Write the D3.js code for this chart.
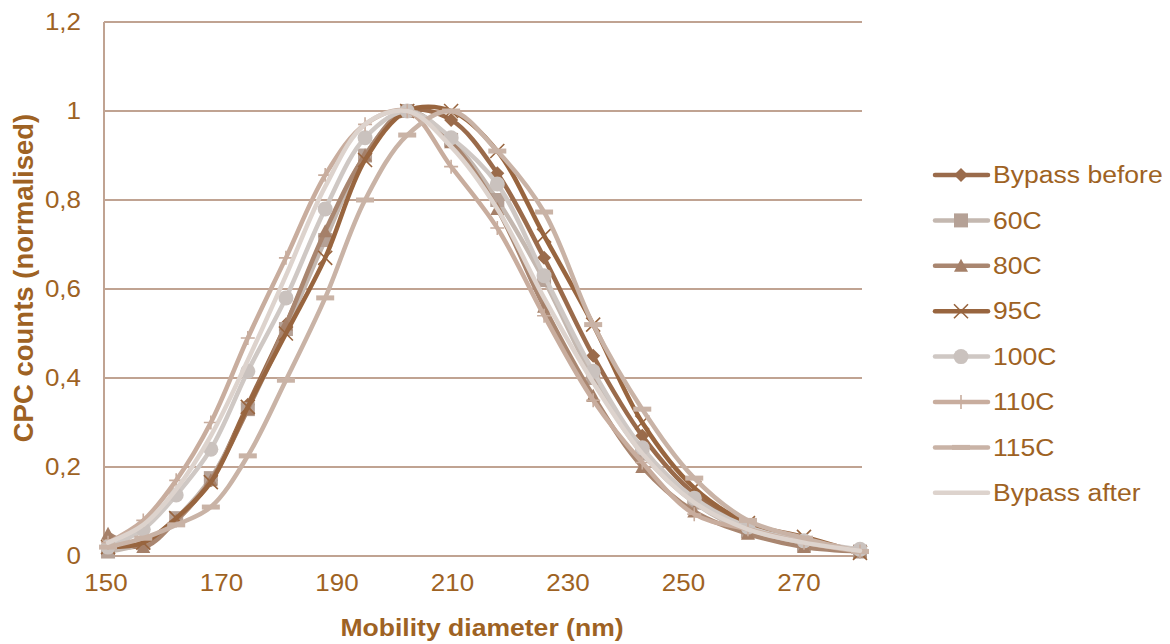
<!DOCTYPE html>
<html><head><meta charset="utf-8">
<script src="https://cdn.jsdelivr.net/npm/d3@7"></script>
<style>body{margin:0;background:#fff;}svg{display:block;font-family:"Liberation Sans",Arial,sans-serif;}</style>
</head><body>
<svg id="c" width="1170" height="644"></svg>
<script>
const diameters = [150.7,156.8,162.5,168.5,174.9,181.5,188.3,195.2,202.5,210.1,218.1,226.2,234.7,243.2,252.2,261.5,271.2,280.9];
const seriesNames = ["Bypass before","60C","80C","95C","100C","110C","115C","Bypass after"];
const bypassBefore = [0.02,0.025,0.08,0.17,0.34,0.52,0.72,0.9,1.0,0.98,0.86,0.67,0.45,0.27,0.14,0.07,0.03,0.01];
const c60 = [0.01,0.03,0.085,0.175,0.33,0.51,0.71,0.9,1.0,0.935,0.8,0.62,0.4,0.23,0.12,0.055,0.025,0.01];
const c80 = [0.05,0.02,0.08,0.17,0.33,0.52,0.73,0.9,1.0,0.93,0.78,0.56,0.36,0.2,0.1,0.05,0.02,0.01];
const c95 = [0.02,0.03,0.085,0.166,0.335,0.5,0.67,0.89,1.0,1.0,0.91,0.72,0.52,0.3,0.153,0.074,0.043,0.007];
const c100 = [0.02,0.06,0.137,0.24,0.415,0.58,0.78,0.94,1.0,0.94,0.836,0.63,0.415,0.243,0.13,0.065,0.034,0.015];
const c110 = [0.03,0.08,0.17,0.3,0.49,0.67,0.856,0.97,1.0,0.875,0.737,0.54,0.35,0.21,0.094,0.06,0.03,0.01];
const c115 = [0.02,0.04,0.07,0.11,0.225,0.395,0.58,0.8,0.946,1.0,0.91,0.773,0.52,0.33,0.175,0.08,0.04,0.01];
const bypassAfter = [0.03,0.07,0.15,0.27,0.44,0.63,0.83,0.97,1.0,0.92,0.78,0.58,0.39,0.23,0.12,0.06,0.03,0.012];
const xTicks = [150,170,190,210,230,250,270];
const yTicks = [0,0.2,0.4,0.6,0.8,1,1.2];

const seriesValues = [bypassBefore,c60,c80,c95,c100,c110,c115,bypassAfter];
const lineColors = ["#9a6b4b","#c4b8b0","#a98670","#98653f","#cfc8c4","#c8ad9e","#c9b3a6","#ddd3cd"];
const markerColors = ["#9a6b4b","#b5a196","#a58069","#98653f","#cac2be","#c8ad9e","#c9b3a6",null];
const markerTypes = ["diamond","square","triangle","x","circle","plus","dash","none"];
const textColor = "#9e6223";
const gridColor = "#c0a392";
const SX = 1.13; // horizontal stretch of the reference's text

const svg = d3.select("#c");
const x = d3.scaleLinear().domain([150,280.9]).range([104,860]);
const y = d3.scaleLinear().domain([0,1.2]).range([556,22]);

function stretchedText(parent, tx, ty, str, size, anchor, weight){
  return parent.append("text")
    .attr("transform",`translate(${tx},${ty}) scale(${SX},1)`)
    .attr("text-anchor",anchor).attr("dy","0.35em")
    .attr("fill",textColor).style("font-size",size+"px")
    .style("font-weight",weight||"normal").text(str);
}

// gridlines
svg.append("g").selectAll("line").data(yTicks).join("line")
  .attr("x1",104).attr("x2",862).attr("y1",d=>y(d)).attr("y2",d=>y(d))
  .attr("stroke",gridColor).attr("stroke-width",2);
svg.append("line").attr("x1",104).attr("x2",104).attr("y1",y(1.2)).attr("y2",y(0))
  .attr("stroke",gridColor).attr("stroke-width",2);

// tick labels
const yFmt = d=>d3.format("~g")(d).replace(".",",");
const gy = svg.append("g");
yTicks.forEach(t=>stretchedText(gy,81,y(t),yFmt(t),23,"end"));
const gx = svg.append("g");
xTicks.forEach(t=>stretchedText(gx,x(t)+2,583,String(t),23,"middle"));

// titles
stretchedText(svg,482,628,"Mobility diameter (nm)",23.5,"middle","bold");
svg.append("text").attr("transform","translate(23,278) rotate(-90)").attr("text-anchor","middle")
  .attr("dy","0.35em").attr("fill",textColor).style("font-size","27.5px").style("font-weight","bold")
  .text("CPC counts (normalised)");

function drawMarker(g, type, cx, cy, color){
  const s = 7;
  if(type==="diamond"){
    g.append("path").attr("d",`M${cx},${cy-s}L${cx+s},${cy}L${cx},${cy+s}L${cx-s},${cy}Z`).attr("fill",color);
  } else if(type==="square"){
    g.append("rect").attr("x",cx-s).attr("y",cy-s).attr("width",2*s).attr("height",2*s).attr("fill",color);
  } else if(type==="triangle"){
    g.append("path").attr("d",`M${cx},${cy-s}L${cx+s},${cy+s-1}L${cx-s},${cy+s-1}Z`).attr("fill",color);
  } else if(type==="circle"){
    g.append("circle").attr("cx",cx).attr("cy",cy).attr("r",s+0.5).attr("fill",color);
  } else if(type==="x"){
    g.append("path").attr("d",`M${cx-s},${cy-s}L${cx+s},${cy+s}M${cx-s},${cy+s}L${cx+s},${cy-s}`)
      .attr("stroke",color).attr("stroke-width",1.6);
  } else if(type==="plus"){
    g.append("path").attr("d",`M${cx-s},${cy}L${cx+s},${cy}M${cx},${cy-s}L${cx},${cy+s}`)
      .attr("stroke",color).attr("stroke-width",1.6);
  } else if(type==="dash"){
    g.append("rect").attr("x",cx-s-2).attr("y",cy-2.5).attr("width",2*s+4).attr("height",5).attr("fill",color);
  }
}

const line = d3.line().x(d=>x(d[0])).y(d=>y(d[1])).curve(d3.curveCatmullRom.alpha(0.5));
seriesValues.forEach((vals,i)=>{
  const pts = diameters.map((d,j)=>[d,vals[j]]);
  const g = svg.append("g");
  g.append("path").attr("d",line(pts)).attr("fill","none")
    .attr("stroke",lineColors[i]).attr("stroke-width",4.5).attr("stroke-linejoin","round").attr("stroke-linecap","round");
  if(markerTypes[i]!=="none"){
    pts.forEach(p=>drawMarker(g,markerTypes[i],x(p[0]),y(p[1]),markerColors[i]));
  }
});

// legend
const lg = svg.append("g");
seriesNames.forEach((name,i)=>{
  const ly = 175 + i*45.4;
  lg.append("line").attr("x1",935).attr("x2",988).attr("y1",ly).attr("y2",ly)
    .attr("stroke",lineColors[i]).attr("stroke-width",4.5).attr("stroke-linecap","round");
  if(markerTypes[i]!=="none") drawMarker(lg,markerTypes[i],961,ly,markerColors[i]);
  stretchedText(lg,993,ly,name,23.5,"start");
});
</script>
</body></html>
